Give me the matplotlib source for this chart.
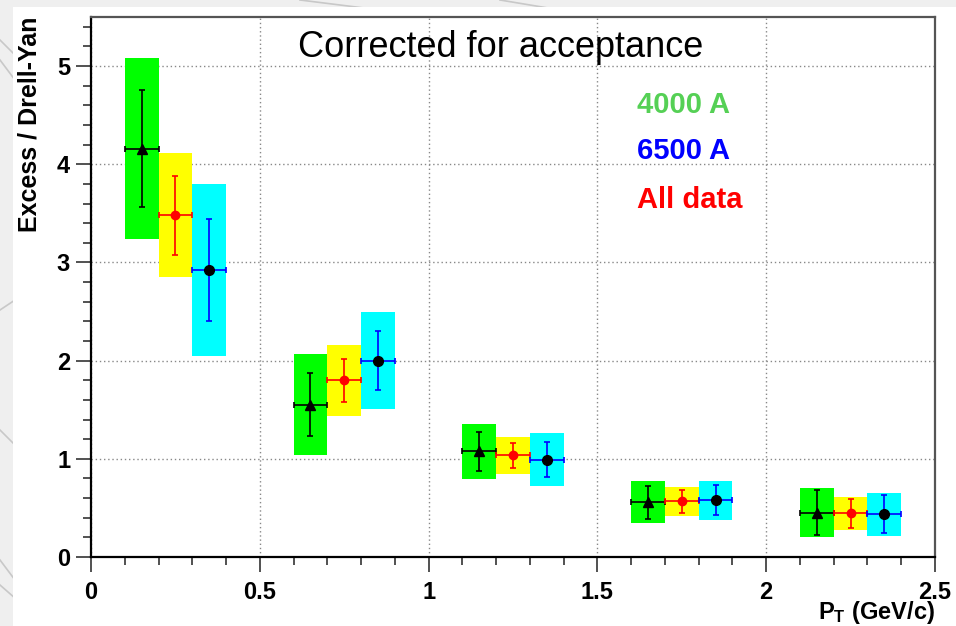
import matplotlib
matplotlib.use("Agg")
import matplotlib.pyplot as plt
from matplotlib.patches import Rectangle
from matplotlib.lines import Line2D

plt.rcParams['font.family'] = ['Liberation Sans', 'DejaVu Sans']
plt.rcParams['mathtext.fontset'] = 'custom'
plt.rcParams['mathtext.rm'] = 'Liberation Sans'
plt.rcParams['mathtext.bf'] = 'Liberation Sans:bold'

# pT bin centres of each data set (GeV/c)
pt_4000 = [0.15, 0.65, 1.15, 1.65, 2.15]
pt_all = [0.25, 0.75, 1.25, 1.75, 2.25]
pt_6500 = [0.35, 0.85, 1.35, 1.85, 2.35]
bin_halfwidth = 0.05

# Excess / Drell-Yan with statistical and systematic errors
val_4000 = [4.16, 1.55, 1.075, 0.557, 0.452]
stat_4000 = [0.60, 0.32, 0.197, 0.17, 0.232]
sys_4000 = [0.92, 0.515, 0.28, 0.215, 0.25]

val_all = [3.48, 1.80, 1.034, 0.567, 0.445]
stat_all = [0.40, 0.22, 0.13, 0.116, 0.148]
sys_all = [0.63, 0.36, 0.19, 0.145, 0.165]

val_6500 = [2.92, 2.00, 0.993, 0.578, 0.435]
stat_6500 = [0.52, 0.30, 0.18, 0.153, 0.192]
sys_6500 = [0.875, 0.497, 0.265, 0.197, 0.22]

x_ticks = [0, 0.5, 1, 1.5, 2, 2.5]
x_labels = ['0', '0.5', '1', '1.5', '2', '2.5']
y_ticks = [0, 1, 2, 3, 4, 5]
y_labels = ['0', '1', '2', '3', '4', '5']

W, H = 956, 626
fig = plt.figure(figsize=(W / 100, H / 100), dpi=100)
fig.patch.set_facecolor('#efefef')

# faint streaks of the slide background, then the white canvas
for (x0, y0, x1, y1) in [(0, 560, 60, 640), (0, 585, 40, 620), (0, 430, 40, 470),
                         (0, 310, 30, 290), (0, 60, 30, 100), (0, 40, 30, 70),
                         (300, 0, 380, 10), (500, 0, 560, 10)]:
    fig.add_artist(Line2D([x0 / W, x1 / W], [1 - y0 / H, 1 - y1 / H],
                          transform=fig.transFigure, color='#c8c8c8', lw=1.2, zorder=-3))
fig.add_artist(Rectangle((13 / W, 0), 1 - 13 / W, 1 - 7 / H, transform=fig.transFigure,
                         facecolor='white', edgecolor='none', zorder=-2))

ax = fig.add_axes([91 / W, 1 - 557 / H, (935 - 91) / W, (557 - 17) / H])
ax.set_xlim(0, 2.5)
ax.set_ylim(0, 5.5)
ax.set_axisbelow(True)

# systematic boxes
for pts, vals, syst, col in [(pt_4000, val_4000, sys_4000, '#00ff00'),
                             (pt_all, val_all, sys_all, '#ffff00'),
                             (pt_6500, val_6500, sys_6500, '#00ffff')]:
    ax.bar(pts, [2 * s for s in syst], width=2 * bin_halfwidth,
           bottom=[v - s for v, s in zip(vals, syst)], color=col, zorder=2)

# points with statistical errors
ax.errorbar(pt_4000, val_4000, yerr=stat_4000, xerr=bin_halfwidth, fmt='^', color='black',
            ms=7, ecolor='black', elinewidth=1.2, capsize=2.2, capthick=1.2, zorder=3)
ax.errorbar(pt_all, val_all, yerr=stat_all, xerr=bin_halfwidth, fmt='o', color='red',
            ms=6, ecolor='red', elinewidth=1.2, capsize=2.2, capthick=1.2, zorder=3)
ax.errorbar(pt_6500, val_6500, yerr=stat_6500, xerr=bin_halfwidth, fmt='o', color='black',
            ms=7, ecolor='blue', elinewidth=1.2, capsize=2.2, capthick=1.2, zorder=3)

ax.set_xticks(x_ticks)
ax.set_xticklabels(x_labels, fontsize=17, fontweight='bold')
ax.set_yticks(y_ticks)
ax.set_yticklabels(y_labels, fontsize=17, fontweight='bold')
ax.set_xticks([i / 10 for i in range(26)], minor=True)
ax.set_yticks([i / 5 for i in range(28)], minor=True)
ax.tick_params(which='major', direction='out', length=11, width=1.2, color='#333333')
ax.tick_params(which='minor', direction='out', length=5.5, width=1.2, color='#333333')
ax.tick_params(axis='x', which='major', pad=6)
ax.tick_params(axis='y', which='major', pad=4)

ax.grid(True, which='major', color='#888888', lw=1, linestyle=(0, (1, 2)))

for side in ['left', 'bottom']:
    ax.spines[side].set_color('black')
    ax.spines[side].set_linewidth(1.6)
for side in ['top', 'right']:
    ax.spines[side].set_color('#555555')
    ax.spines[side].set_linewidth(1.6)

fig.text(30 / W, 1 - 17 / H, 'Excess / Drell-Yan', rotation=90, ha='center', va='top',
         fontsize=18, fontweight='bold')
fig.text(935 / W, 1 - 619 / H, r'$\mathbf{P_T}$ (GeV/c)', ha='right', va='baseline',
         fontsize=17, fontweight='bold')
fig.text(501 / W, 1 - 57 / H, 'Corrected for acceptance', ha='center', va='baseline',
         fontsize=26)

fig.text(637 / W, 1 - 105 / H, '4000 A', color='#55d055', fontsize=21, fontweight='bold',
         ha='left', va='center')
fig.text(637 / W, 1 - 151 / H, '6500 A', color='#0000ff', fontsize=21, fontweight='bold',
         ha='left', va='center')
fig.text(637 / W, 1 - 200 / H, 'All data', color='#ff0000', fontsize=21, fontweight='bold',
         ha='left', va='center')

fig.savefig('out.png', dpi=100, facecolor=fig.get_facecolor())
